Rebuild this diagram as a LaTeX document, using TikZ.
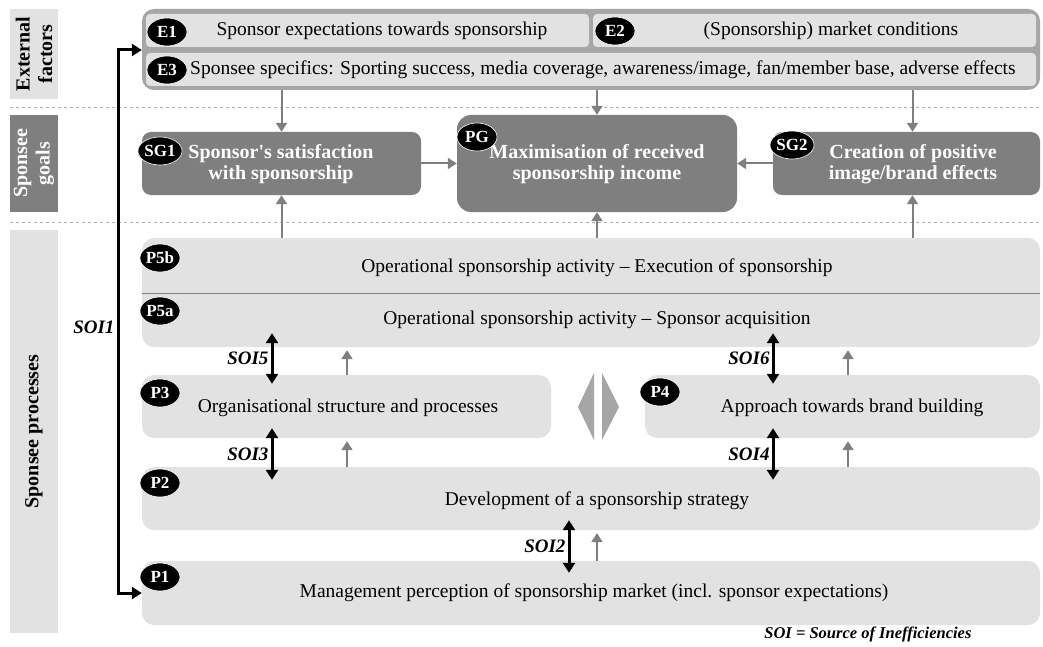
\documentclass[tikz,border=0pt]{standalone}
\usepackage{fontspec}
\setmainfont{Liberation Serif}
\usetikzlibrary{shapes.geometric,arrows.meta}
\definecolor{lg}{HTML}{E2E2E2}
\definecolor{mg}{HTML}{A6A6A6}
\definecolor{dg}{HTML}{7F7F7F}
\definecolor{sepc}{HTML}{B0B0B0}
\begin{document}
\begin{tikzpicture}[x=1pt,y=-1pt,font=\fontsize{19.5}{21}\selectfont,
  sep/.style={draw=sepc,dashed,line width=0.8pt},
  side/.style={rectangle,inner sep=0pt,minimum width=48pt},
  sidetext/.style={rotate=90,align=center,font=\bfseries\fontsize{20}{19.5}\selectfont},
  lbox/.style={rectangle,fill=lg,inner sep=0pt,rounded corners=12pt},
  ebox/.style={rectangle,fill=lg,inner sep=0pt,rounded corners=4pt,minimum height=33pt},
  gbox/.style={rectangle,fill=dg,inner sep=0pt,rounded corners=9pt},
  gtext/.style={text=white,align=center,font=\bfseries\fontsize{20}{21}\selectfont},
  badge/.style={ellipse,fill=black,draw=white,line width=0.6pt,inner sep=0pt,minimum width=40pt,minimum height=28pt,text=white,font=\bfseries\fontsize{17}{17}\selectfont},
  garrow/.style={draw=dg,line width=2pt,-{Triangle[width=11pt,length=9pt]}},
  soi/.style={line width=3pt,{Triangle[width=12pt,length=10pt]}-{Triangle[width=12pt,length=10pt]}},
  soilab/.style={font=\bfseries\itshape\fontsize{19}{20}\selectfont,inner sep=2pt}]
\useasboundingbox (0,0) rectangle (1043,647);
% separators
\coordinate (sepA1) at (10,107); \coordinate (sepA2) at (1040,107);
\coordinate (sepB1) at (10,222); \coordinate (sepB2) at (1040,222);
\draw[sep] (sepA1) -- (sepA2);
\draw[sep] (sepB1) -- (sepB2);
% side labels
\node[side,fill=lg,minimum height=90pt] (lext) at (34,54) {};
\node[sidetext] (lextt) at (lext) {External\\[3pt]factors};
\node[side,fill=dg,minimum height=97pt] (lgoal) at (34,163.5) {};
\node[sidetext,text=white] (lgoalt) at (lgoal) {Sponsee\\[3pt]goals};
\node[side,fill=lg,minimum height=403pt] (lproc) at (34,431.5) {};
\node[sidetext] (lproct) at (lproc) {Sponsee processes};
% external factors
\node[rectangle,fill=mg,rounded corners=12pt,inner sep=0pt,minimum width=898pt,minimum height=81pt] (ext) at (591,49.5) {};
\node[ebox,minimum width=443pt] (e1) at (367.5,30.5) {};
\node[ebox,minimum width=443pt] (e2) at (814.5,30.5) {};
\node[ebox,minimum width=890pt] (e3) at (591,69.5) {};
\node (e1t) at (382,31) {Sponsor expectations towards sponsorship};
\node (e2t) at (831,31) {(Sponsorship) market conditions};
\node[anchor=west,inner sep=0pt] (e3t) at (190,70) {Sponsee specifics: Sporting success, media coverage, awareness/image, fan/member base, adverse effects};
\node[badge] (be1) at (167,32) {E1};
\node[badge] (be2) at (615,31) {E2};
\node[badge] (be3) at (167,70) {E3};
% goals
\node[gbox,minimum width=279pt,minimum height=63pt] (sg1) at (281.5,163.5) {};
\node[gbox,rounded corners=14pt,minimum width=280pt,minimum height=97pt] (pg) at (597,163.5) {};
\node[gbox,minimum width=267pt,minimum height=63pt] (sg2) at (906.5,163.5) {};
\node[gtext] (sg1t) at (281,164) {Sponsor\textquotesingle s satisfaction\\with sponsorship};
\node[gtext] (pgt) at (597,164) {Maximisation of received\\sponsorship income};
\node[gtext] (sg2t) at (913,164) {Creation of positive\\image/brand effects};
\node[badge] (bsg1) at (160,151) {SG1};
\node[badge] (bpg) at (477,137) {PG};
\node[badge] (bsg2) at (792,145) {SG2};
% processes
\node[lbox,minimum width=898pt,minimum height=109pt] (p5) at (591,292.5) {};
\coordinate (p5divL) at (142,293); \coordinate (p5divR) at (1040,293);
\draw[dg,line width=0.8pt] (p5divL) -- (p5divR);
\node[lbox,minimum width=409pt,minimum height=63pt] (p3) at (346.5,406.5) {};
\node[lbox,minimum width=395pt,minimum height=63pt] (p4) at (842.5,406.5) {};
\node[lbox,minimum width=898pt,minimum height=63pt] (p2) at (591,498.5) {};
\node[lbox,minimum width=898pt,minimum height=64pt] (p1) at (591,593) {};
\node (p5bt) at (597,268) {Operational sponsorship activity -- Execution of sponsorship};
\node (p5at) at (597,320) {Operational sponsorship activity -- Sponsor acquisition};
\node (p3t) at (348,408) {Organisational structure and processes};
\node (p4t) at (852,408) {Approach towards brand building};
\node (p2t) at (597,501) {Development of a sponsorship strategy};
\node (p1t) at (594,593) {Management perception of sponsorship market (incl. sponsor expectations)};
\node[badge] (bp5b) at (160,258) {P5b};
\node[badge] (bp5a) at (160,311) {P5a};
\node[badge] (bp3) at (160,393) {P3};
\node[badge] (bp4) at (660,392) {P4};
\node[badge] (bp2) at (160,483) {P2};
\node[badge] (bp1) at (160,577) {P1};
% diamond halves
\fill[mg] (594,373) -- (578,407) -- (594,440) -- cycle;
\fill[mg] (602,373) -- (619,407) -- (602,440) -- cycle;
% gray arrows
\draw[garrow] (sg1.north |- ext.south) -- (sg1.north);
\draw[garrow] (pg.north |- ext.south) -- (pg.north);
\draw[garrow] ([xshift=6pt]sg2.north |- ext.south) -- ([xshift=6pt]sg2.north);
\draw[garrow] (sg1.east) -- (pg.west |- sg1.east);
\draw[garrow] (sg2.west) -- (pg.east |- sg2.west);
\draw[garrow] (sg1.south |- p5.north) -- (sg1.south);
\draw[garrow] (pg.south |- p5.north) -- (pg.south);
\draw[garrow] ([xshift=6pt]sg2.south |- p5.north) -- ([xshift=6pt]sg2.south);
\coordinate (gxl) at (347,0); \coordinate (gxr) at (848,0); \coordinate (gxm) at (597,0);
\draw[garrow,shorten >=3pt] (p3.north -| gxl) -- (p5.south -| gxl);
\draw[garrow,shorten >=3pt] (p4.north -| gxr) -- (p5.south -| gxr);
\draw[garrow,shorten >=3pt] (p2.north -| gxl) -- (p3.south -| gxl);
\draw[garrow,shorten >=3pt] (p2.north -| gxr) -- (p4.south -| gxr);
\draw[garrow,shorten >=3pt] (p1.north -| gxm) -- (p2.south -| gxm);
% SOI arrows
\coordinate (sxl) at (272,0); \coordinate (sxr) at (773,0); \coordinate (sxm) at (569,0);
\draw[soi] ([yshift=14pt]p5.south -| sxl) -- node[left,soilab] {SOI5} ([yshift=-9pt]p3.north -| sxl);
\draw[soi] ([yshift=14pt]p5.south -| sxr) -- node[left,soilab] {SOI6} ([yshift=-9pt]p4.north -| sxr);
\draw[soi] ([yshift=10pt]p3.south -| sxl) -- node[left,soilab] {SOI3} ([yshift=-13pt]p2.north -| sxl);
\draw[soi] ([yshift=10pt]p4.south -| sxr) -- node[left,soilab] {SOI4} ([yshift=-13pt]p2.north -| sxr);
\draw[soi] ([yshift=10pt]p2.south -| sxm) -- node[left,soilab] {SOI2} ([yshift=-12pt]p1.north -| sxm);
\coordinate (s1top) at (118,50);
\coordinate (s1bot) at (118,593);
\draw[soi] (ext.west |- s1top) -- (s1top) -- node[left,soilab,pos=0.51] {SOI1} (s1bot) -- (p1.west |- s1bot);
% footer
\node[anchor=east,font=\bfseries\itshape\fontsize{16.5}{18}\selectfont] (foot) at (975,634) {SOI = Source of Inefficiencies};
\end{tikzpicture}
\end{document}
